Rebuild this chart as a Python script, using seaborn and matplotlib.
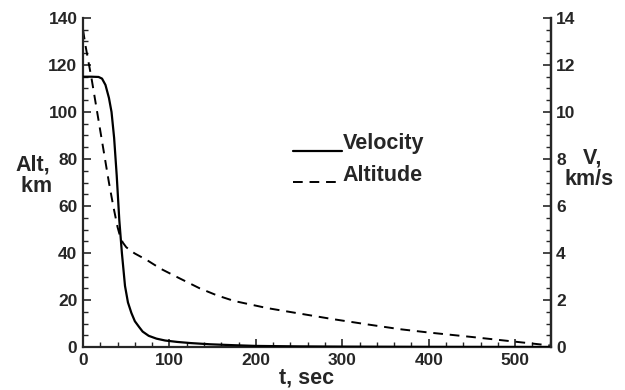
import numpy as np
import matplotlib
matplotlib.use('Agg')
import matplotlib.pyplot as plt
import pandas as pd
import seaborn as sns
from matplotlib.legend_handler import HandlerLine2D
from matplotlib.ticker import MultipleLocator

# velocity, km/s (right axis)
t_vel = [0, 10, 18, 22, 26, 30, 33, 36, 39, 42, 45, 48.6, 52, 56, 60, 65, 69,
         76, 85, 95, 109, 125, 147, 175, 200, 250, 300, 400, 540]
vel = [11.5, 11.5, 11.49, 11.42, 11.15, 10.6, 10.0, 8.9, 7.3, 5.4, 4.0, 2.6,
       1.9, 1.45, 1.1, 0.85, 0.66, 0.48, 0.36, 0.28, 0.22, 0.17, 0.12, 0.08,
       0.05, 0.03, 0.02, 0.01, 0.005]

# altitude, km (left axis)
t_alt = [0, 3, 6, 10, 15, 20, 25, 30, 35, 40, 43, 46, 50, 55, 60, 74, 90, 112,
         135, 155, 175, 213, 250, 289, 330, 367, 400, 450, 500, 540]
alt = [135, 128, 122, 114, 103, 92, 81, 70, 60, 51, 47, 44.5, 42.5, 41, 39.8,
       37, 33.3, 29.2, 25.0, 22.0, 19.6, 16.6, 14.3, 11.9, 9.6, 7.6, 6.2, 4.3,
       2.3, 0.7]

vel_df = pd.DataFrame({'t': t_vel, 'v': vel})
alt_df = pd.DataFrame({'t': t_alt, 'h': alt})

sns.set_style('ticks')
plt.rcParams['font.family'] = ['Liberation Sans', 'DejaVu Sans']
plt.rcParams['font.weight'] = 'bold'


class BaselineHandler(HandlerLine2D):
    # put the legend sample on the text baseline, as in the original
    def create_artists(self, legend, orig_handle, xdescent, ydescent,
                       width, height, fontsize, trans):
        arts = super().create_artists(legend, orig_handle, xdescent, ydescent,
                                      width, height, fontsize, trans)
        for a in arts:
            a.set_ydata(np.zeros_like(a.get_xdata(), dtype=float) - 1)
        return arts


fig = plt.figure(figsize=(6.25, 3.9), dpi=100)
ax = fig.add_axes([0.1328, 0.110, 0.7482, 0.844])
sns.lineplot(data=alt_df, x='t', y='h', ax=ax, color='black', lw=1.4,
             label='Altitude')
alt_line = ax.get_lines()[-1]
alt_line.set_dashes([5, 3.5])

ax2 = ax.twinx()
sns.lineplot(data=vel_df, x='t', y='v', ax=ax2, color='black', lw=1.6,
             label='Velocity')
vel_line = ax2.get_lines()[-1]

ax.set_xlim(0, 541)
ax.set_ylim(0, 140)
ax2.set_ylim(0, 14)

ax.xaxis.set_major_locator(MultipleLocator(100))
ax.xaxis.set_minor_locator(MultipleLocator(20))
ax.yaxis.set_major_locator(MultipleLocator(20))
ax.yaxis.set_minor_locator(MultipleLocator(5))
ax2.yaxis.set_major_locator(MultipleLocator(2))
ax2.yaxis.set_minor_locator(MultipleLocator(0.5))

for a in (ax, ax2):
    a.tick_params(which='major', direction='in', length=6, width=1.2,
                  labelsize=12.5, pad=4)
    a.tick_params(which='minor', direction='in', length=3.5, width=1)
    for s in a.spines.values():
        s.set_linewidth(1.6)
    a.spines['top'].set_visible(False)
    a.set_xlabel('')
    a.set_ylabel('')
    for lab in a.get_xticklabels() + a.get_yticklabels():
        lab.set_fontweight('bold')
ax.tick_params(axis='y', which='both', right=False)
ax.tick_params(axis='x', which='both', top=False)
ax2.spines['left'].set_visible(False)
ax2.spines['bottom'].set_visible(False)

if ax.get_legend():
    ax.get_legend().remove()
if ax2.get_legend():
    ax2.get_legend().remove()

leg = ax2.legend([vel_line, alt_line], ['Velocity', 'Altitude'],
                 loc='upper left', bbox_to_anchor=(0.449, 0.65),
                 frameon=False, borderpad=0, borderaxespad=0,
                 handlelength=2.3, handletextpad=0.0, labelspacing=0.5,
                 prop={'size': 15.5, 'weight': 'bold'},
                 handler_map={vel_line: BaselineHandler(),
                              alt_line: BaselineHandler()})

fig.text(0.053, 0.549, 'Alt,\n km', fontsize=15.5, fontweight='bold',
         ha='center', va='center', linespacing=1.05)
fig.text(0.943, 0.567, ' V,\nkm/s', fontsize=15.5, fontweight='bold',
         ha='center', va='center', linespacing=1.05)
fig.text(0.491, 0.030, 't, sec', fontsize=15.5, fontweight='bold',
         ha='center', va='center')

plt.savefig('out.png', dpi=100)
